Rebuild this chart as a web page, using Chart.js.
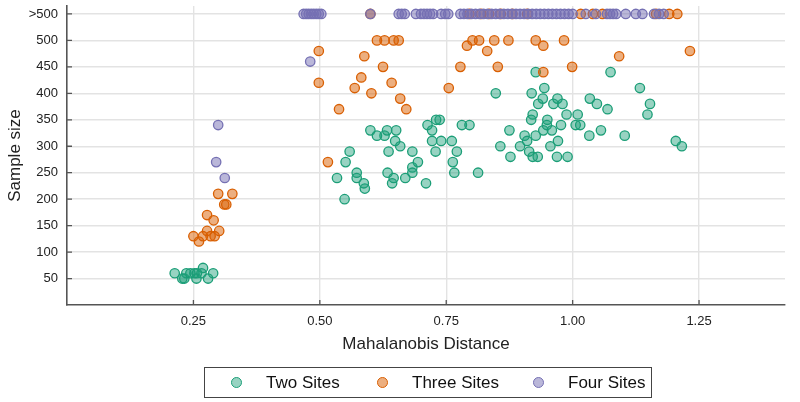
<!DOCTYPE html>
<html>
<head>
<meta charset="utf-8">
<script src="https://cdn.jsdelivr.net/npm/chart.js@4"></script>
<style>
  body { margin: 0; background: #fff; }
  #wrap { position: relative; width: 800px; height: 402px; }
  #chart { position: absolute; left: 0; top: 0; }
  #legend {
    position: absolute; left: 204px; top: 367px; width: 448px; height: 31px;
    border: 1px solid #444; box-sizing: border-box;
    font-family: "Liberation Sans", Arial, sans-serif; font-size: 17px; color: #111;
  }
  .item { position: absolute; top: 5px; line-height: 19px; }
  .dot {
    position: absolute; top: 9px; width: 9px; height: 9px; border-radius: 50%;
    border: 1.3px solid; box-sizing: content-box;
  }
</style>
</head>
<body>
<div id="wrap">
  <canvas id="chart" width="800" height="402"></canvas>
  <div id="legend"></div>
</div>
<script>
// values; 550 stands for the ">500" row
const twoSitesDist = [
  0.213, 0.228, 0.232, 0.236, 0.244, 0.252, 0.256, 0.257, 0.266, 0.269, 0.279, 0.289,
  0.534, 0.549, 0.551, 0.559, 0.573, 0.573, 0.587, 0.589,
  0.600, 0.613, 0.628, 0.633, 0.636, 0.634, 0.646, 0.643, 0.649, 0.651, 0.659, 0.669,
  0.683, 0.683, 0.683, 0.694, 0.710, 0.713, 0.722, 0.722, 0.729, 0.730, 0.737, 0.740,
  0.761, 0.763, 0.766, 0.771, 0.781, 0.796, 0.813,
  0.848, 0.857, 0.875, 0.877, 0.896, 0.905, 0.910, 0.914, 0.918, 0.921, 0.921, 0.919,
  0.927, 0.927, 0.931, 0.932, 0.941, 0.942, 0.944, 0.949, 0.950, 0.956, 0.959, 0.962,
  0.969, 0.970, 0.971, 0.977, 0.980, 0.988, 0.990,
  1.006, 1.010, 1.015, 1.033, 1.034, 1.048, 1.056, 1.069, 1.075, 1.103, 1.133, 1.148,
  1.153, 1.204, 1.216,
];
const twoSitesSize = [
  60, 50, 50, 60, 60, 60, 50, 60, 60, 70, 50, 60,
  240, 200, 270, 290, 250, 240, 230, 220,
  330, 320, 320, 330, 290, 250, 240, 230, 310, 330, 300, 240,
  290, 260, 250, 270, 230, 340, 330, 310, 290, 350, 350, 310,
  310, 270, 250, 290, 340, 340, 250,
  400, 300, 330, 280, 300, 320, 310, 290, 350, 360, 280, 400,
  440, 320, 280, 380, 390, 330, 410, 340, 350, 300, 330, 380,
  280, 390, 310, 340, 380, 360, 280,
  340, 360, 340, 320, 390, 380, 330, 370, 440, 320, 410, 360,
  380, 310, 300,
];

const threeSitesDist = [
  0.250, 0.261, 0.269, 0.277, 0.277, 0.284, 0.290, 0.292, 0.301, 0.299, 0.327, 0.311, 0.315,
  0.498, 0.498, 0.516, 0.538, 0.569, 0.582, 0.588, 0.602, 0.613, 0.625, 0.628, 0.642,
  0.646, 0.656, 0.659, 0.671, 0.755, 0.778, 0.791, 0.802, 0.815, 0.831, 0.845, 0.852,
  0.873, 0.927, 0.942, 0.942, 0.983, 0.999, 1.092, 1.232,
  0.600, 0.796, 0.819, 0.835, 0.858, 0.881, 0.910, 1.016, 1.040, 1.059, 1.165, 1.191, 1.207,
];
const threeSitesSize = [
  130, 120, 130, 140, 170, 130, 160, 130, 140, 210, 210, 190, 190,
  480, 420, 270, 370, 410, 430, 470, 400, 500, 450, 500, 420,
  500, 500, 390, 370, 410, 450, 490, 500, 500, 480, 500, 450,
  500, 500, 490, 440, 500, 450, 470, 480,
  550, 550, 550, 550, 550, 550, 550, 550, 550, 550, 550, 550, 550,
];

const fourSitesDist = [
  0.295, 0.312, 0.299, 0.481,
  0.468, 0.473, 0.478, 0.483, 0.488, 0.493, 0.498, 0.503, 0.600, 0.656, 0.662, 0.668,
  0.690, 0.700, 0.706, 0.712, 0.718, 0.724, 0.740, 0.748, 0.754,
  0.778, 0.785, 0.792, 0.800, 0.808, 0.816, 0.824, 0.832, 0.840, 0.848, 0.856, 0.864,
  0.872, 0.880, 0.888, 0.896, 0.904, 0.912, 0.920, 0.928, 0.936, 0.944, 0.952, 0.960,
  0.968, 0.976, 0.984, 0.992, 1.000,
  1.026, 1.046, 1.068, 1.074, 1.080, 1.086, 1.105, 1.125, 1.138, 1.161, 1.171, 1.180,
];
const fourSitesSize = [
  270, 240, 340, 460,
  550, 550, 550, 550, 550, 550, 550, 550, 550, 550, 550, 550,
  550, 550, 550, 550, 550, 550, 550, 550, 550,
  550, 550, 550, 550, 550, 550, 550, 550, 550, 550, 550, 550,
  550, 550, 550, 550, 550, 550, 550, 550, 550, 550, 550, 550,
  550, 550, 550, 550, 550,
  550, 550, 550, 550, 550, 550, 550, 550, 550, 550, 550, 550,
];

const seriesNames = ["Two Sites", "Three Sites", "Four Sites"];
const xTickValues = [0.25, 0.5, 0.75, 1.0, 1.25];
const yTickValues = [50, 100, 150, 200, 250, 300, 350, 400, 450, 500, 550];
const yTickLabels = ["50", "100", "150", "200", "250", "300", "350", "400", "450", "500", ">500"];

const fills = ["rgba(27,158,119,0.45)", "rgba(217,95,2,0.5)", "rgba(117,112,179,0.5)"];
const borders = ["#1b9e77", "#d95f02", "#7570b3"];
const FONT = "'Liberation Sans', Arial, sans-serif";

function points(xs, ys) {
  return xs.map((x, i) => ({ x: x, y: ys[i] }));
}

const allData = [
  points(twoSitesDist, twoSitesSize),
  points(threeSitesDist, threeSitesSize),
  points(fourSitesDist, fourSitesSize),
];

const datasets = seriesNames.map((name, i) => ({
  label: name,
  data: allData[i],
  backgroundColor: fills[i],
  borderColor: borders[i],
  borderWidth: 1.3,
  pointRadius: 4.7,
  order: 3 - i, // purple drawn on top
}));

// short inward tick marks on both axes
const innerTicks = {
  id: "innerTicks",
  afterDatasetsDraw(chart) {
    const ctx = chart.ctx;
    const x = chart.scales.x;
    const y = chart.scales.y;
    ctx.save();
    ctx.strokeStyle = "#555";
    ctx.lineWidth = 1.3;
    ctx.beginPath();
    xTickValues.forEach((v) => {
      const px = x.getPixelForValue(v);
      ctx.moveTo(px, y.bottom);
      ctx.lineTo(px, y.bottom - 5);
    });
    yTickValues.forEach((v) => {
      const py = y.getPixelForValue(v);
      ctx.moveTo(x.left, py);
      ctx.lineTo(x.left + 5, py);
    });
    ctx.stroke();
    ctx.restore();
  },
};

new Chart(document.getElementById("chart"), {
  type: "scatter",
  data: { datasets: datasets },
  plugins: [innerTicks],
  options: {
    responsive: false,
    animation: false,
    layout: { padding: { left: 0, top: 6, right: 15, bottom: 47 } },
    plugins: { legend: { display: false }, tooltip: { enabled: false } },
    scales: {
      x: {
        type: "linear",
        min: 0,
        max: 1.42,
        afterBuildTicks: (s) => { s.ticks = xTickValues.map((v) => ({ value: v })); },
        afterFit: (s) => { s.height = 50; },
        ticks: {
          padding: 9,
          color: "#222",
          font: { family: FONT, size: 13 },
          callback: (v) => Number(v).toFixed(2),
        },
        grid: { color: "#e3e3e3", lineWidth: 1.4, drawTicks: false },
        border: { display: true, color: "#555", width: 1.6 },
        title: {
          display: true,
          text: "Mahalanobis Distance",
          color: "#222",
          font: { family: FONT, size: 17 },
          padding: { top: 3, bottom: 0 },
        },
      },
      y: {
        type: "linear",
        min: 0,
        max: 565,
        afterBuildTicks: (s) => { s.ticks = yTickValues.map((v) => ({ value: v })); },
        afterFit: (s) => {
          s.width = 67;
          s.paddingTop = 0;
          s.paddingBottom = 0;
        },
        ticks: {
          padding: 9,
          color: "#222",
          font: { family: FONT, size: 13 },
          callback: (v) => yTickLabels[yTickValues.indexOf(v)],
        },
        grid: { color: "#e3e3e3", lineWidth: 1.4, drawTicks: false },
        border: { display: true, color: "#555", width: 1.6 },
        title: {
          display: true,
          text: "Sample size",
          color: "#222",
          font: { family: FONT, size: 17 },
          padding: { top: 5, bottom: 0 },
        },
      },
    },
  },
});

// boxed legend under the chart
const legendLeft = [26, 172, 328];
const legend = document.getElementById("legend");
seriesNames.forEach((name, i) => {
  const dot = document.createElement("span");
  dot.className = "dot";
  dot.style.left = legendLeft[i] + "px";
  dot.style.background = fills[i];
  dot.style.borderColor = borders[i];
  legend.appendChild(dot);
  const label = document.createElement("span");
  label.className = "item";
  label.style.left = legendLeft[i] + 35 + "px";
  label.textContent = name;
  legend.appendChild(label);
});
</script>
</body>
</html>
